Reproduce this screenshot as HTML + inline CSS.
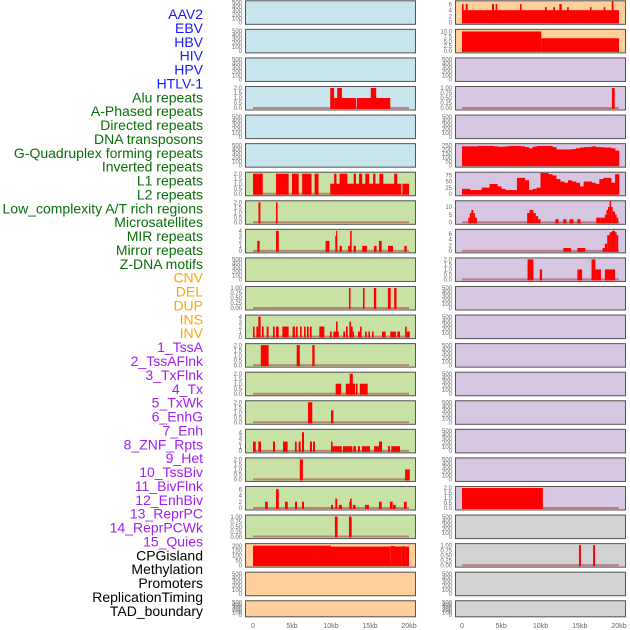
<!DOCTYPE html>
<html><head><meta charset="utf-8">
<style>
html,body{margin:0;padding:0;background:#fff;}
svg{display:block;font-family:"Liberation Sans",sans-serif;}
</style></head>
<body>
<svg id="chart" width="630" height="630" viewBox="0 0 630 630"></svg>
<script>
// ---------- track names ----------
const trackNames = ["AAV2","EBV","HBV","HIV","HPV","HTLV-1","Alu repeats","A-Phased repeats","Directed repeats","DNA transposons","G-Quadruplex forming repeats","Inverted repeats","L1 repeats","L2 repeats","Low_complexity A/T rich regions","Microsatellites","MIR repeats","Mirror repeats","Z-DNA motifs","CNV","DEL","DUP","INS","INV","1_TssA","2_TssAFlnk","3_TxFlnk","4_Tx","5_TxWk","6_EnhG","7_Enh","8_ZNF_Rpts","9_Het","10_TssBiv","11_BivFlnk","12_EnhBiv","13_ReprPC","14_ReprPCWk","15_Quies","CPGisland","Methylation","Promoters","ReplicationTiming","TAD_boundary"];
const trackGroups = ["v","v","v","v","v","v","r","r","r","r","r","r","r","r","r","r","r","r","r","c","c","c","c","c","s","s","s","s","s","s","s","s","s","s","s","s","s","s","s","o","o","o","o","o"];

// ---------- tick label sets ----------
const ticksEmpty = ["0","100","200","300","400","500"];
const ticks2 = ["0.0","0.5","1.0","1.5","2.0"];
const ticks1 = ["0.00","0.25","0.50","0.75","1.00"];
const ticks4 = ["0","1","2","3","4"];
const ticks6 = ["0","2","4","6"];
const ticks10 = ["0.0","2.5","5.0","7.5","10.0"];
const ticks200 = ["0","50","100","150","200"];
const ticks250 = ["0","50","100","150","200","250"];
const ticks75 = ["0","25","50","75"];
const ticks14 = ["0","5","10"];
const xTickKb = [0,5,10,15,20];
const xTickLabels = ["0","5kb","10kb","15kb","20kb"];

// ---------- segment data [startKb, endKb, value] ----------
const segAlu = [[9.9,10.4,2],[10.4,13.2,1],[10.8,11.4,2],[13.3,17.6,1],[15.1,15.8,2]];
const segL7 = [[0,1.25,2],[2.95,4.57,2],[5.0,5.85,2],[6.3,7.5,2],[7.9,8.4,2],[9.9,19.0,1],[19.15,20,1],[10.4,10.7,2],[11.1,12.1,2],[12.9,13.2,2],[13.6,14.0,2],[14.4,14.9,2],[15.4,15.7,2],[16.2,16.7,2],[18.1,18.5,2]];
const segL8 = [[0.7,0.95,2],[2.95,3.15,2]];
const segL9 = [[0.55,0.85,2],[2.95,3.3,4],[9.3,9.8,2],[10.55,10.8,3],[10.65,10.8,4],[11.1,11.4,1],[12.2,12.6,1],[12.45,12.65,4],[12.9,13.2,1],[14.0,14.6,1],[15.5,15.85,1],[16.15,16.5,2],[17.3,17.95,1],[19.4,19.7,1]];
const segL11 = [[12.3,12.5,1],[14.1,14.3,1],[15.5,15.8,1],[17.3,17.65,1],[18.1,18.4,1]];
const segL12 = [[0,0.2,2],[0.43,0.68,2],[0.68,0.98,4],[1.15,1.37,2],[1.75,2.0,2],[2.56,2.78,2],[2.95,3.3,2],[3.76,4.57,2],[5.08,5.38,2],[5.5,5.73,2],[6.03,6.24,2],[6.54,6.75,2],[6.92,7.14,2],[7.3,7.52,2],[8.5,9.15,2],[9.87,10.1,1],[10.3,11.0,1],[10.64,10.85,3],[11.58,11.8,1],[11.92,12.14,2],[12.35,12.56,3],[12.56,12.78,2],[12.78,12.95,1],[13.46,13.72,1],[13.72,13.93,2],[14.36,14.57,1],[14.79,15.0,1],[15.26,15.47,1],[16.54,17.0,1],[17.6,17.82,1],[17.82,18.33,1],[18.5,18.85,1],[19.5,19.7,2],[19.7,20.1,1]];
const segL13 = [[1.0,2.0,2],[5.6,6.0,2],[7.6,7.9,2]];
const segL14 = [[10.6,11.3,1],[11.9,13.1,1],[12.4,12.8,2],[13.2,13.4,1],[13.7,14.7,1]];
const segL15 = [[7.05,7.6,2],[10.0,10.3,1.2]];
const segL16 = [[0,0.35,2],[0.68,1.03,2],[2.56,2.82,2],[3.85,4.44,2],[5.38,5.6,2],[5.85,6.11,2],[6.28,6.54,4],[7.3,7.56,2],[7.7,7.95,2],[10.0,10.2,2],[10.2,11.37,1],[11.54,12.26,1],[12.26,12.73,1],[12.86,13.2,1],[13.46,13.72,1],[13.97,15.0,1],[15.5,16.15,1],[16.15,16.54,2],[17.3,17.56,1],[17.73,18.85,1]];
const segL17 = [[6.0,6.4,2],[19.5,20.1,1]];
const segL18 = [[1.55,1.9,2],[2.95,3.3,6],[4.1,4.45,2],[5.38,5.65,2],[6.28,6.54,2],[10.0,10.25,1],[10.55,10.8,3],[11.0,11.4,1],[12.35,12.65,2],[12.45,12.65,3],[12.8,13.15,1],[14.36,14.87,1],[16.15,16.5,2],[17.55,17.9,2],[17.95,18.3,1],[19.35,19.7,2]];
const segL19 = [[10.5,10.85,1],[12.3,12.65,1]];
const segL20 = [[0,10.0,200],[10.0,17.6,190],[17.6,18.2,195],[18.2,19.0,190],[19.0,19.5,193],[19.5,20,190]];

const segR0 = [[0,20,4],[0,0.2,6],[0.47,0.72,6],[3.82,4.08,6],[4.29,4.5,6],[7.39,7.6,6],[10.57,10.8,5],[11.63,11.85,5],[12.4,12.7,6],[13.38,13.6,5],[16.3,16.5,5],[18.05,18.26,5],[19.07,19.3,7]];
const segR1 = [[0,10.1,10],[10.1,20,6.5]];
const segR3 = [[19.1,19.45,1]];
const segR7 = [[0.8,1.0,3],[1.0,1.2,6],[1.2,1.45,8],[1.45,1.65,6],[1.65,1.9,3],[8.3,8.6,6],[8.6,9.1,8],[9.1,9.4,6],[9.4,9.7,4],[9.7,10.0,2],[11.9,12.3,2],[12.9,13.3,2],[13.7,14.2,2],[14.7,15.1,2],[17.1,17.6,3],[17.6,18.2,3],[18.2,18.4,5],[18.4,18.6,8],[18.6,18.8,10],[18.8,19.0,14],[19.0,19.2,10],[19.2,19.5,7],[19.5,19.7,5],[19.7,19.9,3]];
const segR8 = [[12.9,13.9,1],[14.7,15.7,1],[17.9,18.2,1],[18.2,18.5,2.5],[18.5,18.8,5.5],[18.8,19.1,6.5],[19.1,19.5,7],[19.5,19.7,6.5],[19.7,19.9,5.5]];
const segR9 = [[8.35,9.1,2],[9.9,10.2,1],[14.7,15.3,1],[16.5,17.0,2],[17.0,17.7,1],[18.2,19.5,1]];
const segR17 = [[0,10.3,2]];
const segR19 = [[14.9,15.15,1],[16.7,16.95,1]];

// binned coverage (0.5 kb bins)
const gquadValues = [240,240,240,240,245,245,245,245,240,235,235,240,245,245,245,240,230,215,235,245,245,245,245,230,200,200,200,200,205,215,225,230,230,240,230,230,225,225,215,185];
const l1Values = [20,20,15,15,15,25,25,40,40,30,20,15,15,15,65,65,55,15,20,25,85,85,80,75,60,50,45,55,50,45,30,50,50,45,40,60,65,65,45,80];

// ---------- layout ----------
const NS = "http://www.w3.org/2000/svg";
const svg = document.getElementById("chart");
const COLX = [245, 455];
const PW = 171;
const KB0 = [253, 462];
const PXKB = [7.8, 7.85];
const BG = {blue:"#c8e4ec", green:"#c8e2a6", purple:"#d6c6e2", orange:"#ffcf9c", gray:"#d2d2d2"};
function rowTop(r){ return r*28.57 + 0.3; }
function rowH(r){ return r===21 ? 17 : 24.5; }

function mk(tag, attrs, parent){
  const e = document.createElementNS(NS, tag);
  for (const k in attrs) e.setAttribute(k, attrs[k]);
  (parent||svg).appendChild(e);
  return e;
}

// panels: col,row,bg,ticks,ymax,data,bins
const panels = [];
function P(col,row,bg,ticks,ymax,seg,bins){ panels.push({col,row,bg,ticks,ymax,seg,bins}); }
for (let r=0;r<22;r++){
  // left column
  let bg = r<6 ? "blue" : (r<19 ? "green" : "orange");
  const L = {3:[ticks2,2,segAlu],6:[ticks2,2,segL7],7:[ticks2,2,segL8],8:[ticks4,4,segL9],10:[ticks1,1,segL11],11:[ticks4,4,segL12],12:[ticks2,2,segL13],13:[ticks2,2,segL14],14:[ticks2,2,segL15],15:[ticks4,4.3,segL16],16:[ticks2,2,segL17],17:[ticks6,6.4,segL18],18:[ticks1,1,segL19],19:[ticks200,205,segL20]};
  if (L[r]) P(0,r,bg,L[r][0],L[r][1],L[r][2],null); else P(0,r,bg,ticksEmpty,500,null,null);
  // right column
  bg = r<2 ? "orange" : (r<18 ? "purple" : "gray");
  const R = {0:[ticks6,6.6,segR0],1:[ticks10,10.3,segR1],3:[ticks1,1,segR3],7:[ticks14,13,segR7],8:[ticks6,7,segR8],9:[ticks2,2,segR9],17:[ticks2,2,segR17],19:[ticks1,1,segR19]};
  if (r===5) P(1,r,bg,ticks250,255,null,gquadValues);
  else if (r===6) P(1,r,bg,ticks75,82,null,l1Values);
  else if (R[r]) P(1,r,bg,R[r][0],R[r][1],R[r][2],null);
  else P(1,r,bg,ticksEmpty,500,null,null);
}

let clipId = 0;
panels.forEach(p=>{
  const T = rowTop(p.row), H = rowH(p.row), X = COLX[p.col];
  const yTop = T+2, yBot = T+H-2.5;
  const yS = v => yBot - (v/p.ymax)*(yBot-yTop);
  const xS = kb => KB0[p.col] + kb*PXKB[p.col];
  const g = mk("g",{});
  
  
  const cid = "c"+(clipId++);
  const cp = mk("clipPath",{id:cid},g);
  mk("rect",{x:X,y:T,width:PW,height:H},cp);
  const bgr = mk("rect",{x:X,y:T,width:PW,height:H,fill:BG[p.bg]},g);
  
  
  const hasData = p.seg || p.bins;
  const dg = mk("g",{"clip-path":"url(#"+cid+")"},g);
  if (hasData){
    const bl = mk("line",{x1:xS(0),x2:xS(20),y1:yBot,y2:yBot,stroke:"rgba(170,60,60,0.55)","stroke-width":2},dg);
    
    
  }
  const segs = p.seg ? p.seg : (p.bins ? p.bins.map((v,i)=>[i*0.5,(i+1)*0.5,v]) : []);
  segs.forEach(s=>{
    const y = yS(s[2]);
    const b = mk("rect",{x:xS(s[0]),y:y,width:Math.max(0.8,xS(s[1])-xS(s[0])+ (p.bins?0.3:0)),height:Math.max(0,yBot+1-y),fill:"#ff0000"},dg);
    
    
  });
  const fr = mk("rect",{x:X+0.5,y:T+0.5,width:PW-1,height:H-1,fill:"none",stroke:"#555","stroke-width":1},g);
  
  
  // y ticks
  const tmax = parseFloat(p.ticks[p.ticks.length-1]);
  const ymaxT = p.seg||p.bins ? p.ymax : 500;
  p.ticks.forEach(t=>{
    const v = parseFloat(t);
    const y = yS(v*(p.ymax/ (p.seg||p.bins ? p.ymax : 500)));
    const tx = mk("text",{x:X-3,y:y+2.2,"font-size":6,fill:"#666","text-anchor":"end"},g);
    tx.textContent = t;
    
    
  });
});

// x axis labels
[0,1].forEach(c=>{
  xTickKb.forEach((kb,i)=>{
    const t = mk("text",{x:KB0[c]+kb*PXKB[c],y:628,"font-size":7,fill:"#666","text-anchor":"middle"});
    t.textContent = xTickLabels[i];
    
    
  });
});

// track labels
const groupColor = {v:"#1a1aff",r:"#0a6e0a",c:"#ffa500",s:"#a020f0",o:"#000"};
trackNames.forEach((n,i)=>{
  const t = mk("text",{x:203,y:19+i*13.88,"font-size":14,fill:groupColor[trackGroups[i]],"text-anchor":"end"});
  t.textContent = n;
  
  
});
</script>
</body></html>
